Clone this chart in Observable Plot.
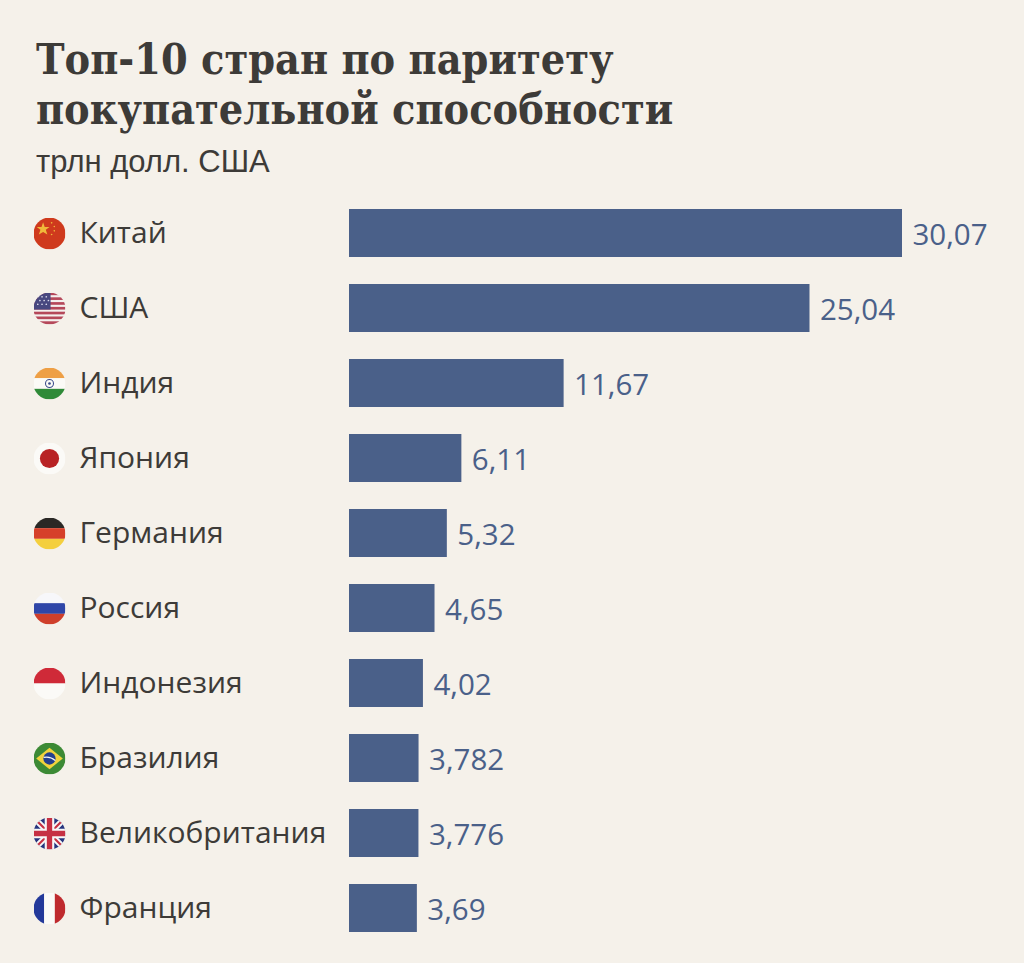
<!DOCTYPE html>
<html lang="ru">
<head>
<meta charset="utf-8">
<script src="https://cdn.jsdelivr.net/npm/d3@7"></script>
<script src="https://cdn.jsdelivr.net/npm/@observablehq/plot@0.6"></script>
<style>
html,body{margin:0;padding:0;background:#f5f1ea;width:1024px;height:963px;overflow:hidden}
#title{position:absolute;left:36px;top:34px;margin:0;font:700 42.7px/50px "DejaVu Serif Condensed","DejaVu Serif",serif;font-stretch:condensed;color:#3d3b38;white-space:nowrap}
#sub{position:absolute;left:36px;top:145px;margin:0;font:400 31px/34px "Liberation Sans",sans-serif;color:#3d3b38;white-space:nowrap}
#chart{position:absolute;left:0;top:181px}
</style>
</head>
<body>
<h1 id="title">Топ-10 стран по паритету<br>покупательной способности</h1>
<p id="sub">трлн долл. США</p>
<div id="chart"></div>
<script>
const countries = ["Китай","США","Индия","Япония","Германия","Россия","Индонезия","Бразилия","Великобритания","Франция"];
const values = [30.07,25.04,11.67,6.11,5.32,4.65,4.02,3.782,3.776,3.69];
const flagArt = [
 '<rect width="60" height="60" fill="#cf3a1d"/><polygon points="18,9 21,18 30,18 23,23 26,32 18,27 10,32 13,23 6,18 15,18" fill="#f0b93a"/><circle cx="34" cy="10" r="1.5" fill="#f0b93a"/><circle cx="39" cy="17" r="1.5" fill="#f0b93a"/><circle cx="39" cy="25" r="1.5" fill="#f0b93a"/><circle cx="34" cy="32" r="1.5" fill="#f0b93a"/>',
 '<rect width="60" height="60" fill="#f4f0ee"/><g fill="#b5485a"><rect y="0" width="60" height="5"/><rect y="9" width="60" height="5"/><rect y="18" width="60" height="5"/><rect y="27" width="60" height="5"/><rect y="36" width="60" height="5"/><rect y="45" width="60" height="5"/><rect y="54" width="60" height="6"/></g><rect width="32" height="32" fill="#48487f"/><g fill="#d8d8e8"><circle cx="8" cy="8" r="1.6"/><circle cx="16" cy="8" r="1.6"/><circle cx="24" cy="8" r="1.6"/><circle cx="12" cy="15" r="1.6"/><circle cx="20" cy="15" r="1.6"/><circle cx="28" cy="15" r="1.6"/><circle cx="8" cy="22" r="1.6"/><circle cx="16" cy="22" r="1.6"/><circle cx="24" cy="22" r="1.6"/></g>',
 '<rect width="60" height="20" fill="#ee9f45"/><rect y="20" width="60" height="20" fill="#fbfaf6"/><rect y="40" width="60" height="20" fill="#2f8a38"/><circle cx="30" cy="30" r="7.5" fill="none" stroke="#3d4d8c" stroke-width="2"/><circle cx="30" cy="30" r="2.5" fill="#3d4d8c"/>',
 '<rect width="60" height="60" fill="#fbfaf7"/><circle cx="30" cy="30" r="18" fill="#b82224"/>',
 '<rect width="60" height="20" fill="#2a2825"/><rect y="20" width="60" height="20" fill="#d6402a"/><rect y="40" width="60" height="20" fill="#f4cf3e"/>',
 '<rect width="60" height="20" fill="#f7f7fa"/><rect y="20" width="60" height="20" fill="#2f46a8"/><rect y="40" width="60" height="20" fill="#cf3f2b"/>',
 '<rect width="60" height="30" fill="#cf2a38"/><rect y="30" width="60" height="30" fill="#fbfaf7"/>',
 '<rect width="60" height="60" fill="#3c8a35"/><polygon points="30,10 55,30 30,50 5,30" fill="#f1d33c"/><circle cx="30" cy="30" r="11.5" fill="#24408e"/><path d="M19 28q12-3 22 6" stroke="#f5f5f5" stroke-width="2.4" fill="none"/>',
 '<rect width="60" height="60" fill="#26357e"/><path d="M0 0L60 60M60 0L0 60" stroke="#f7f7f7" stroke-width="11"/><path d="M0 0L60 60M60 0L0 60" stroke="#c63043" stroke-width="4"/><path d="M30 0V60M0 30H60" stroke="#f7f7f7" stroke-width="18"/><path d="M30 0V60M0 30H60" stroke="#c63043" stroke-width="10"/>',
 '<rect width="20" height="60" fill="#23399a"/><rect x="20" width="20" height="60" fill="#fbfaf7"/><rect x="40" width="20" height="60" fill="#bf2a2e"/>'
];
const flagSrc = flagArt.map(a => "data:image/svg+xml," + encodeURIComponent('<svg xmlns="http://www.w3.org/2000/svg" viewBox="0 0 60 60">' + a + '</svg>'));
const rows = countries.map((name,i) => ({name, value: values[i], flag: flagSrc[i]}));
const comma = v => String(v).replace(".", ",");

const chart = Plot.plot({
  width: 1024, height: 778,
  marginLeft: 349, marginRight: 122, marginTop: 0, marginBottom: 0,
  style: {background: "transparent"},
  x: {domain: [0, 30.07], axis: null},
  y: {domain: countries, padding: 0.36, axis: null},
  marks: [
    Plot.barX(rows, {x: "value", y: "name", fill: "#4a6089"}),
    Plot.text(rows, {x: "value", y: "name", text: d => comma(d.value), textAnchor: "start", dx: 10, dy: 2,
      fontSize: 29.5, fontFamily: "Open Sans", fill: "#4a6089"}),
    Plot.text(rows, {y: "name", text: "name", frameAnchor: "left", textAnchor: "start", dx: -270, dy: 0,
      fontSize: 30, fontFamily: "Open Sans", fill: "#3d3b38", style: {letterSpacing: "0.1px"}}),
    Plot.image(rows, {y: "name", src: "flag", frameAnchor: "left", dx: -300, r: 16})
  ]
});
document.getElementById("chart").append(chart);
</script>
</body>
</html>
